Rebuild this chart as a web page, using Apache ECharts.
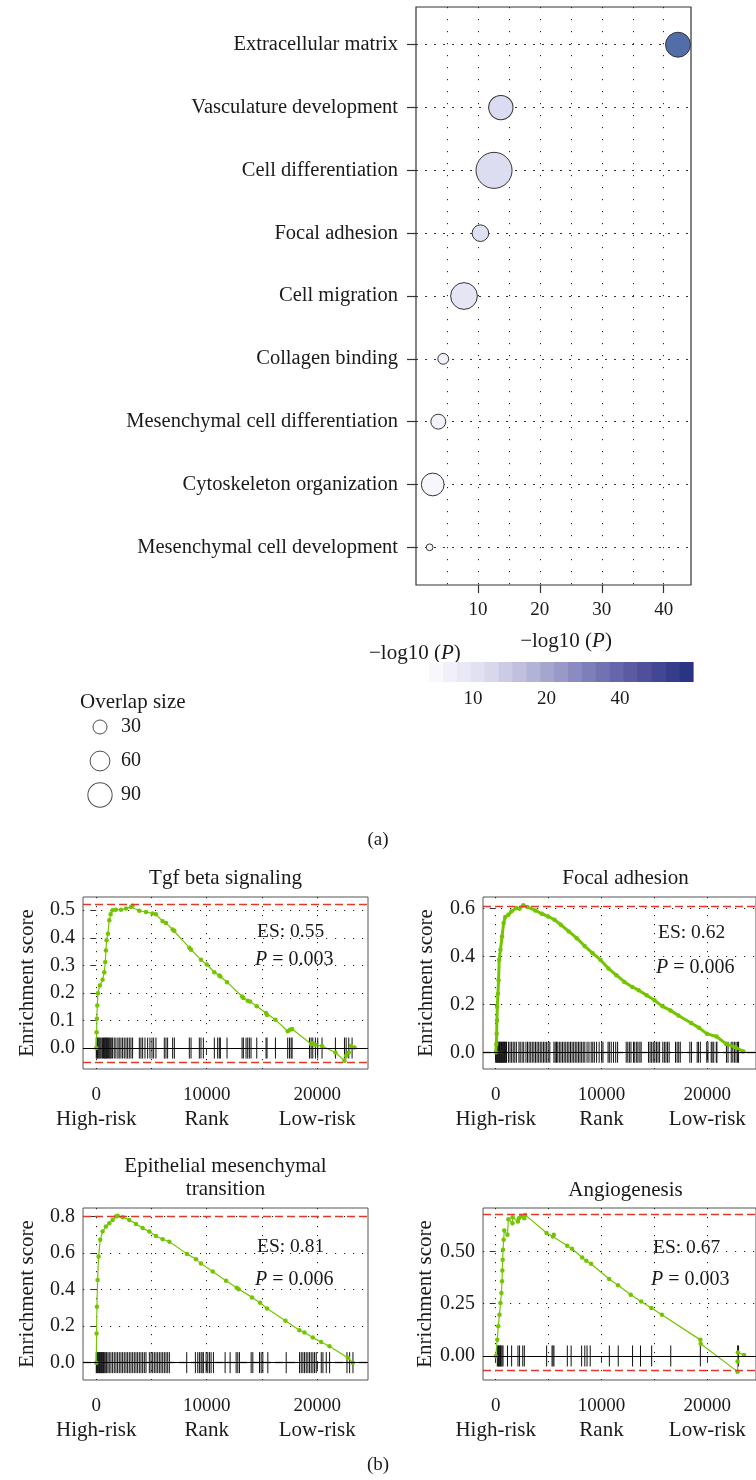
<!DOCTYPE html>
<html>
<head>
<meta charset="utf-8">
<script src="https://cdn.jsdelivr.net/npm/echarts@6/dist/echarts.min.js"></script>
<style>
  html, body { margin: 0; padding: 0; background: #fff; }
  #main { width: 756px; height: 1480px; }
</style>
</head>
<body>
<div id="main"></div>
<script>
var FONT = "'Liberation Serif', 'DejaVu Serif', serif";
var TXT = '#1a1a1a';

// ---- (a) enrichment bubble chart ----
var terms = ['Extracellular matrix', 'Vasculature development', 'Cell differentiation', 'Focal adhesion',
  'Cell migration', 'Collagen binding', 'Mesenchymal cell differentiation', 'Cytoskeleton organization',
  'Mesenchymal cell development'];
var logP = [42.3, 13.7, 12.6, 10.4, 7.75, 4.4, 3.6, 2.7, 2.2];
var overlap = [95, 90, 198, 42, 109, 18, 34, 79, 7];
var termPos = [1, 2, 3, 4, 5, 6, 7, 8, 9];
var xTicksA = [10, 20, 30, 40];
var xGridA = [5, 10, 15, 20, 25, 30, 35, 40];
var legendSizes = [30, 60, 90];
var colorbarTicks = [10, 20, 40];
var colorbarBlocks = [0, 1, 2, 3, 4, 5, 6, 7, 8, 9, 10, 11, 12, 13, 14, 15, 16, 17, 18];

// ---- (b) GSEA running enrichment scores: [rank, ES] ----
var curveTgf = [[0,0],[30,0.057],[60,0.106],[90,0.154],[150,0.199],[330,0.227],[570,0.248],[725,0.275],
  [815,0.312],[875,0.354],[935,0.391],[1057,0.415],[1178,0.464],[1300,0.485],[1480,0.5],[1780,0.502],
  [2235,0.502],[2690,0.506],[3140,0.512],[3290,0.516],[3900,0.498],[4500,0.494],[5100,0.488],[5400,0.485],
  [6010,0.46],[6310,0.454],[6915,0.43],[7070,0.425],[8425,0.364],[8580,0.357],[9480,0.32],[10000,0.303],
  [10690,0.275],[11140,0.263],[11235,0.26],[11840,0.239],[13200,0.187],[13320,0.182],[13710,0.172],
  [13920,0.169],[14530,0.152],[15370,0.127],[15460,0.12],[16220,0.103],[17330,0.061],[17540,0.066],
  [17730,0.069],[19450,0.015],[19600,0.017],[19840,0.012],[20440,0.007],[21650,-0.016],[22470,-0.046],
  [22620,-0.028],[22860,-0.016],[23070,0.008],[23380,0.002]];
var hitsTgf = [0,60,120,180,270,360,450,570,660,755,815,875,935,1025,1120,1180,1270,1360,1480,1630,1780,
  1960,2080,2235,2385,2535,2690,2840,2990,3140,3290,3900,4045,4200,4410,4650,4860,5045,5195,5405,6160,6310,
  6460,6915,7070,8425,8580,9330,9480,9695,10690,10990,11140,11235,11840,13200,13320,13560,13710,13860,14010,
  14530,15370,15460,16220,17330,17490,17640,17730,19300,19450,19600,19840,20050,20440,21650,22470,22620,
  22860,23160];

var curveFocal = [[0,0],[60,0.035],[90,0.077],[120,0.133],[150,0.189],[210,0.245],[270,0.301],[330,0.386],
  [450,0.428],[600,0.484],[750,0.54],[900,0.565],[1200,0.575],[1500,0.589],[1950,0.603],[2250,0.6],
  [2610,0.614],[3000,0.607],[3750,0.593],[4350,0.579],[4955,0.568],[5555,0.554],[6155,0.533],[6905,0.505],
  [7660,0.477],[8410,0.444],[9160,0.414],[9910,0.386],[10660,0.35],[11410,0.322],[12160,0.294],[12910,0.273],
  [13510,0.259],[14265,0.238],[15015,0.217],[15765,0.192],[16515,0.175],[17265,0.154],[18470,0.122],
  [19220,0.102],[19970,0.077],[20870,0.066],[21770,0.035],[22670,0.021],[23420,0.003]];
var hitsFocal = [0,60,120,180,241,301,361,421,481,541,602,662,722,782,842,902,963,1023,1203,1354,1504,1654,
  1805,1955,2196,2316,2497,2647,2858,3008,3158,3309,3459,3610,3760,3910,4061,4211,4362,4512,4662,4813,4963,
  5114,5505,5625,5745,5866,6016,6166,6317,6467,6618,6768,6918,7069,7219,7370,7520,7670,7821,7971,8122,8272,
  8422,8633,8813,9024,9174,9325,9535,9776,10017,10137,10618,10739,10919,11130,11340,11521,12333,12483,12634,
  12784,13025,13145,13325,13446,13626,13747,14438,14589,14739,14890,15040,15190,15341,15491,15792,15942,
  16093,16243,16394,16995,17146,17296,17446,18349,18499,19041,19161,19341,19943,20063,20364,20454,20605,
  20845,20906,21808,21958,22259,22410,22560,22710,22861,22951];

var curveEmt = [[0,0],[30,0.159],[60,0.306],[120,0.452],[210,0.58],[360,0.672],[575,0.717],[875,0.745],
  [1180,0.763],[1480,0.781],[1780,0.8],[1930,0.803],[2385,0.796],[2990,0.781],[3595,0.759],[4200,0.736],
  [4800,0.717],[5405,0.693],[6010,0.675],[6615,0.662],[8215,0.595],[9030,0.565],[9480,0.543],[10540,0.498],
  [11750,0.448],[12715,0.41],[12895,0.401],[14100,0.357],[14830,0.328],[15460,0.296],[17125,0.229],
  [18390,0.177],[18845,0.165],[19600,0.137],[20355,0.113],[21110,0.09],[22770,0.027],[23225,0]];
var hitsEmt = [0,60,121,181,242,302,363,423,484,544,604,665,725,816,937,1058,1179,1330,1481,1632,1783,1934,
  2085,2236,2387,2538,2690,2841,2992,3143,3294,3445,3596,3747,3898,4049,4201,4352,4503,4805,4956,5107,5258,
  5409,5560,5712,5863,6014,6165,6316,6467,6618,8190,8975,9187,9338,9489,9580,9701,9942,10093,10245,10396,
  10607,11665,12118,12662,12813,12964,14022,14173,14778,14929,15080,15533,17195,18404,18555,18706,18857,
  19008,19159,19310,19461,19612,19763,19914,20368,20519,20821,21124,22695,22937,23239];

var curveAngio = [[0,0],[150,0.078],[240,0.142],[360,0.197],[450,0.253],[540,0.301],[600,0.357],[630,0.409],
  [660,0.46],[690,0.508],[750,0.556],[810,0.6],[1110,0.58],[1200,0.654],[1590,0.635],[1600,0.664],
  [2100,0.643],[2190,0.659],[2400,0.67],[2700,0.659],[2790,0.675],[4805,0.588],[5405,0.572],[5495,0.58],
  [6755,0.527],[7205,0.513],[8170,0.471],[8560,0.455],[9010,0.441],[10720,0.368],[11560,0.338],
  [12760,0.293],[13750,0.261],[14715,0.229],[15705,0.197],[19340,0.077],[19370,0.058],[22860,-0.075],
  [22860,-0.027],[22880,0.016],[23465,0.005]];
var hitsAngio = [150,211,271,331,391,451,511,602,692,1113,1504,2106,2256,2557,2707,4813,5324,5414,5505,6768,
  7129,8122,8422,8633,8934,10739,11581,12934,13686,14739,16544,19341,22861,22951];

var yTicksTgf = [0, 0.1, 0.2, 0.3, 0.4, 0.5];
var yTicksFocal = [0, 0.2, 0.4, 0.6];
var yTicksEmt = [0, 0.2, 0.4, 0.6, 0.8];
var yTicksAngio = [0, 0.25, 0.5];
var rankTicks = [0, 10000, 20000];
var rankGrid = [0, 5000, 10000, 15000, 20000];
var rankNames = ['High-risk', 'Rank', 'Low-risk'];

var gseaTitles = ['Tgf beta signaling', 'Focal adhesion', 'Epithelial mesenchymal\ntransition', 'Angiogenesis'];
var gseaES = ['0.55', '0.62', '0.81', '0.67'];
var gseaP = ['0.003', '0.006', '0.006', '0.003'];

// panel layout
var panels = [
  { curve: curveTgf, hits: hitsTgf, yTicks: yTicksTgf, dec: 1, yMin: -0.076, yMax: 0.548,
    left: 83, top: 897, titleY: 878, esX: 257, esY: 932, pY: 960, nameGap: 45, lw: 1.2 },
  { curve: curveFocal, hits: hitsFocal, yTicks: yTicksFocal, dec: 1, yMin: -0.07, yMax: 0.649,
    left: 483, top: 897, titleY: 878, esX: 658, esY: 933, pY: 968, nameGap: 46, lw: 3 },
  { curve: curveEmt, hits: hitsEmt, yTicks: yTicksEmt, dec: 1, yMin: -0.095, yMax: 0.846,
    left: 83, top: 1208, titleY: 1178, esX: 257, esY: 1247, pY: 1280, nameGap: 45, lw: 1.2 },
  { curve: curveAngio, hits: hitsAngio, yTicks: yTicksAngio, dec: 2, yMin: -0.115, yMax: 0.708,
    left: 483, top: 1208, titleY: 1190, esX: 653, esY: 1248, pY: 1280, nameGap: 46, lw: 1.2 }
];
var PW = 285, PH = 172;
var GREEN = '#74c500';
var RED = '#e0392e';

function bubbleSize(v) { return 2.56 * Math.sqrt(v); }

var chart = echarts.init(document.getElementById('main'));

var grids = [
  { left: 416, top: 7, width: 275, height: 578, show: true, borderColor: '#333', borderWidth: 1.2 },
  { left: 429, top: 662, width: 264, height: 20 },
  { left: 88, top: 710, width: 24, height: 102 }
];
var xAxes = [
  { gridIndex: 0, type: 'value', min: 0, max: 44.4, axisLine: { show: false }, axisLabel: { show: false },
    axisTick: { show: false, customValues: xGridA },
    splitLine: { show: true, lineStyle: { color: '#222', width: 1, type: [1.2, 10.8] } } },
  { gridIndex: 0, type: 'value', min: 0, max: 44.4, position: 'bottom', axisLine: { show: false },
    splitLine: { show: false },
    axisTick: { show: true, inside: false, length: 8, customValues: xTicksA, lineStyle: { color: '#333', width: 1.2 } },
    axisLabel: { customValues: xTicksA, margin: 16, color: TXT, fontFamily: FONT, fontSize: 19 } },
  { gridIndex: 1, type: 'value', min: 0, max: 19, show: false },
  { gridIndex: 1, type: 'log', min: 6.6, max: 79.6, position: 'bottom', axisLine: { show: false },
    splitLine: { show: false },
    axisTick: { show: true, inside: true, length: 3, customValues: colorbarTicks, lineStyle: { color: '#fff' } },
    axisLabel: { customValues: colorbarTicks, margin: 8, color: TXT, fontFamily: FONT, fontSize: 19 } },
  { gridIndex: 2, type: 'value', min: -1, max: 1, show: false }
];
var yAxes = [
  { gridIndex: 0, type: 'value', inverse: true, min: 0.4, max: 9.6, axisLine: { show: false },
    axisTick: { show: true, length: 9, customValues: termPos, lineStyle: { color: '#333', width: 1.2 } },
    axisLabel: { customValues: termPos, margin: 18, color: TXT, fontFamily: FONT, fontSize: 20.5,
      formatter: function (v) { return terms[Math.round(v) - 1]; } },
    splitLine: { show: true, lineStyle: { color: '#333', width: 1, type: [2, 7] } } },
  { gridIndex: 1, type: 'value', min: 0, max: 1, show: false },
  { gridIndex: 2, type: 'category', inverse: true, position: 'right', data: legendSizes.map(String),
    axisLine: { show: false }, axisTick: { show: false }, splitLine: { show: false },
    axisLabel: { margin: 9, color: TXT, fontFamily: FONT, fontSize: 20 } }
];

var series = [
  { type: 'scatter', xAxisIndex: 1, yAxisIndex: 0, z: 5,
    data: terms.map(function (t, i) { return [logP[i], termPos[i], overlap[i]]; }),
    symbolSize: function (d) { return bubbleSize(d[2]); },
    itemStyle: { borderColor: '#333', borderWidth: 1, opacity: 1 } },
  { type: 'custom', xAxisIndex: 2, yAxisIndex: 1,
    data: colorbarBlocks.map(function (b) { return [b, 0]; }),
    renderItem: function (params, api) {
      var i = api.value(0);
      var a = api.coord([i, 1]), b = api.coord([i + 1, 0]);
      return { type: 'rect', shape: { x: a[0], y: a[1], width: b[0] - a[0] + 0.6, height: b[1] - a[1] },
        style: { fill: api.visual('color') } };
    } },
  { type: 'scatter', xAxisIndex: 4, yAxisIndex: 2,
    data: legendSizes.map(function (s) { return [0, String(s), s]; }),
    symbolSize: function (d) { return bubbleSize(d[2]); },
    itemStyle: { color: '#fff', borderColor: '#222', borderWidth: 1 } }
];

var graphics = [
  { type: 'text', x: 566, y: 641, style: { text: '\u2212log10 ({i|P})', font: '21px ' + FONT, fill: TXT,
    align: 'center', verticalAlign: 'middle', rich: { i: { fontStyle: 'italic', fontFamily: FONT, fontSize: 21 } } } },
  { type: 'text', x: 369, y: 653, style: { text: '\u2212log10 ({i|P})', font: '21px ' + FONT, fill: TXT,
    align: 'left', verticalAlign: 'middle', rich: { i: { fontStyle: 'italic', fontFamily: FONT, fontSize: 21 } } } },
  { type: 'text', x: 80, y: 702, style: { text: 'Overlap size', font: '21px ' + FONT, fill: TXT,
    align: 'left', verticalAlign: 'middle' } },
  { type: 'text', x: 378, y: 840, style: { text: '(a)', font: '19px ' + FONT, fill: TXT,
    align: 'center', verticalAlign: 'middle' } },
  { type: 'text', x: 378, y: 1465, style: { text: '(b)', font: '19px ' + FONT, fill: TXT,
    align: 'center', verticalAlign: 'middle' } }
];

panels.forEach(function (p, k) {
  var gi = grids.length;
  grids.push({ left: p.left, top: p.top, width: PW, height: PH, show: true, borderColor: '#555', borderWidth: 1 });
  var xi = xAxes.length;
  xAxes.push({ gridIndex: gi, type: 'value', min: -1200, max: 24600, position: 'bottom',
    axisLine: { show: false }, splitLine: { show: false },
    axisTick: { show: true, length: 7, customValues: rankTicks, lineStyle: { color: '#333' } },
    axisLabel: { customValues: rankTicks, margin: 14, color: TXT, fontFamily: FONT, fontSize: 19, lineHeight: 24,
      formatter: function (v) { return v + '\n{w|' + rankNames[rankTicks.indexOf(v)] + '}'; },
      rich: { w: { fontFamily: FONT, fontSize: 21, color: TXT, lineHeight: 24 } } } });
  xAxes.push({ gridIndex: gi, type: 'value', min: -1200, max: 24600, position: 'bottom',
    axisLine: { show: false }, axisLabel: { show: false },
    axisTick: { show: false, customValues: rankGrid },
    splitLine: { show: true, lineStyle: { color: '#222', width: 1, type: [1.2, 7.8] } } });
  var yi = yAxes.length;
  yAxes.push({ gridIndex: gi, type: 'value', min: p.yMin, max: p.yMax,
    name: 'Enrichment score', nameLocation: 'middle', nameRotate: 90, nameGap: p.nameGap,
    nameTextStyle: { color: TXT, fontFamily: FONT, fontSize: 21 },
    axisLine: { show: false },
    axisTick: { show: true, length: 6, customValues: p.yTicks, lineStyle: { color: '#333' } },
    axisLabel: { customValues: p.yTicks, margin: 8, color: TXT, fontFamily: FONT, fontSize: 20,
      formatter: (function (dec) { return function (v) { return Number(v).toFixed(dec); }; })(p.dec) },
    splitLine: { show: true, lineStyle: { color: '#222', width: 1, type: [1.2, 7.8] } } });

  var esVals = p.curve.map(function (d) { return d[1]; });
  var esMax = Math.max.apply(null, esVals), esMin = Math.min.apply(null, esVals);

  series.push({ type: 'custom', xAxisIndex: xi, yAxisIndex: yi, z: 3, clip: true,
    data: p.hits.map(function (h) { return [h, 0]; }),
    renderItem: function (params, api) {
      var c = api.coord([api.value(0), 0]);
      return { type: 'line', shape: { x1: c[0], y1: c[1] - 10.5, x2: c[0], y2: c[1] + 10.5 },
        style: { stroke: '#111', lineWidth: 1 } };
    } });
  series.push({ type: 'line', xAxisIndex: xi, yAxisIndex: yi, z: 4, data: p.curve,
    symbol: 'circle', symbolSize: 4.5, showSymbol: true, animation: false,
    lineStyle: { color: GREEN, width: p.lw }, itemStyle: { color: GREEN },
    markLine: { silent: true, symbol: 'none', animation: false, label: { show: false },
      data: [
        { yAxis: esMax, lineStyle: { color: RED, width: 1.3, type: [8, 4] } },
        { yAxis: esMin, lineStyle: { color: RED, width: 1.3, type: [8, 4] } },
        { yAxis: 0, lineStyle: { color: '#000', width: 1.2, type: 'solid' } }
      ] } });

  var cx = p.left + PW / 2;
  graphics.push({ type: 'text', x: cx, y: p.titleY, style: { text: gseaTitles[k], font: '21px ' + FONT,
    fill: TXT, align: 'center', verticalAlign: 'middle', lineHeight: 23 } });
  graphics.push({ type: 'text', x: p.esX, y: p.esY, style: { text: 'ES: ' + gseaES[k], font: '19.5px ' + FONT,
    fill: TXT, align: 'left', verticalAlign: 'middle' } });
  graphics.push({ type: 'text', x: p.esX - 2, y: p.pY, style: { text: '{i|P} = ' + gseaP[k], font: '20px ' + FONT,
    fill: TXT, align: 'left', verticalAlign: 'middle',
    rich: { i: { fontStyle: 'italic', fontFamily: FONT, fontSize: 20 } } } });
});

chart.setOption({
  animation: false,
  textStyle: { fontFamily: FONT },
  grid: grids,
  xAxis: xAxes,
  yAxis: yAxes,
  visualMap: [
    { type: 'continuous', show: false, seriesIndex: 0, dimension: 0, min: 0, max: 44,
      inRange: { color: ['#ffffff', '#e2e2f4', '#d6d6ee', '#aab2d6', '#7a8cbf', '#4865a1'] } },
    { type: 'continuous', show: false, seriesIndex: 1, dimension: 0, min: 0, max: 18,
      inRange: { color: ['#f8f7fc', '#dddcef', '#b1b0d6', '#8080bb', '#56559f', '#2b3384'] } }
  ],
  series: series,
  graphic: graphics
});
</script>
</body>
</html>
